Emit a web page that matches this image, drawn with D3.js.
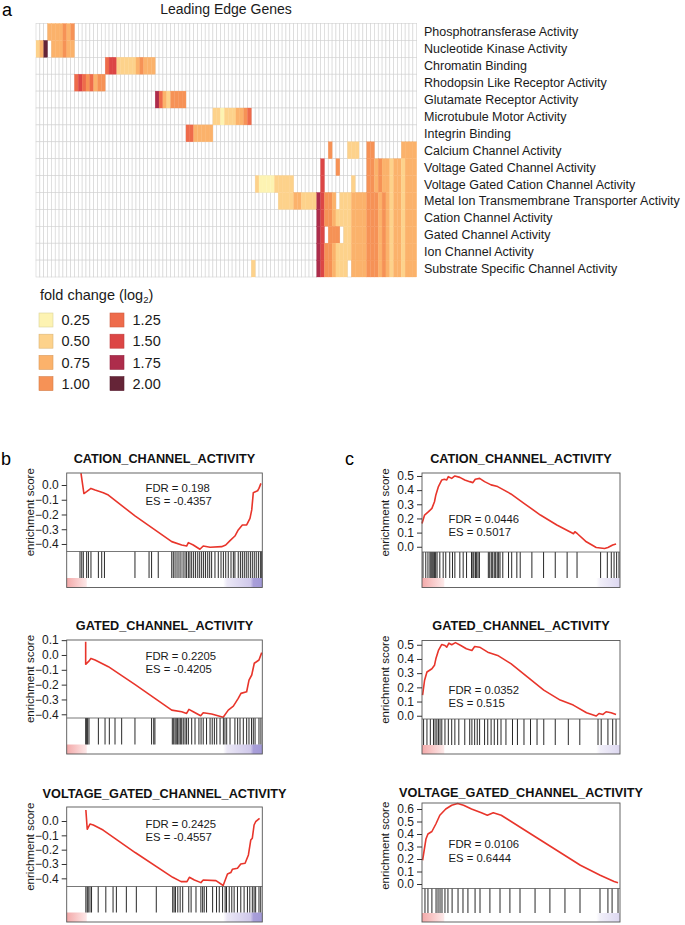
<!DOCTYPE html>
<html>
<head>
<meta charset="utf-8">
<script src="https://cdn.jsdelivr.net/npm/d3@7"></script>
<style>
  body { margin: 0; background: #fff; }
  svg { font-family: "Liberation Sans", Arial, Helvetica, sans-serif; }
</style>
</head>
<body>
<div id="figure"></div>
<script>
//~~~~~~~~~~~~~~~~~~DATA
// gene sets shown in the leading edge heatmap (one row each)
let geneSets = [
  "Phosphotransferase Activity", "Nucleotide Kinase Activity", "Chromatin Binding",
  "Rhodopsin Like Receptor Activity", "Glutamate Receptor Activity", "Microtubule Motor Activity",
  "Integrin Binding", "Calcium Channel Activity", "Voltage Gated Channel Activity",
  "Voltage Gated Cation Channel Activity", "Metal Ion Transmembrane Transporter Activity",
  "Cation Channel Activity", "Gated Channel Activity", "Ion Channel Activity",
  "Substrate Specific Channel Activity"
];
let geneCount = 99;

// leading edge cells, per row: [first gene column, [fold change log2 ...]], null = not in leading edge
let leadingEdge = [
  [[3, [0.75, 0.75, 0.75, 0.75, 1.0, 0.75, 1.0]]],
  [[0, [0.5, 0.75, 2.0, null, 0.75, 0.75, 0.75, 1.0, 0.75, 0.75]]],
  [[18, [1.25, 1.5, 1.5, 0.5, 0.5, 0.5, 0.5, 0.5, 0.75, 1.0, 0.75, 0.75, 0.75]]],
  [[10, [1.25, 1.5, 1.25, 1.0, 1.25, 0.75, 1.0, 1.0]]],
  [[31, [1.75, 1.25, 0.75, 0.5, 1.0, 1.0, 1.0, 1.0]]],
  [[46, [0.5, 0.5, 0.25, 0.5, 0.5, 0.5, 0.75, 0.75, 1.0, 1.25]]],
  [[39, [1.25, 1.25, 0.75, 0.75, 0.75, 0.75, 0.75]]],
  [[76, [1.0]], [81, [0.5, 0.5, 0.5]], [86, [1.0, 1.0]], [95, [0.75, 0.75, 0.75, 0.75]]],
  [[74, [1.5]], [78, [1.0]], [86, [1.0, 1.0, 0.75, 1.0, 0.75, 0.75, 0.5, 0.75, 0.75, 0.5, 0.75, 0.75, 0.75]]],
  [[57, [0.5, 0.25, 0.25, 0.25, 0.25, 0.5, 0.5, 0.5, 0.5, 0.5]], [74, [1.5]], [82, [0.5]],
   [86, [1.0, 1.0, 0.75, 1.0, 0.75, 0.75, 0.5, 0.75, 0.75, 0.5, 0.75, 0.75, 0.75]]],
  [[63, [0.5, 0.5, 0.5, 0.5, 0.75, 0.75, 0.5, 0.5, 0.5, 0.5, 1.75, 1.5, 1.0, 1.0, 0.75, null,
         0.5, 0.5, 0.5, 0.75, 0.75, 0.75, 0.75, 1.0, 1.0, 1.0, 0.75, 1.0, 0.75, 0.5, 0.75, 0.75, 0.5, 0.75, 0.75, 0.75]]],
  [[73, [1.75, 1.5, 1.0, 1.0, 0.75, 0.5,
         0.5, 0.5, 0.5, 0.75, 0.75, 0.75, 0.75, 1.0, 1.0, 1.0, 0.75, 1.0, 0.75, 0.5, 0.75, 0.75, 0.5, 0.75, 0.75, 0.75]]],
  [[73, [1.75, 1.5, null, 1.0, 1.0, 1.0,
         null, 0.5, 0.5, 0.75, 0.75, 0.75, 0.75, 1.0, 1.0, 1.0, 0.75, 1.0, 0.75, 0.5, 0.75, 0.75, 0.5, 0.75, 0.75, 0.75]]],
  [[73, [1.75, 1.5, 1.0, 1.0, 0.75, 0.5,
         0.5, 0.5, 0.5, 0.75, 0.75, 0.75, 0.75, 1.0, 1.0, 1.0, 0.75, 1.0, 0.75, 0.5, 0.75, 0.75, 0.5, 0.75, 0.75, 0.75]]],
  [[56, [0.5]], [73, [1.75, 1.5, 1.0, 1.0, 0.75, 0.5,
         0.5, 0.5, null, 0.75, 0.75, 0.75, 0.75, 1.0, 1.0, 1.0, 0.75, 1.0, 0.75, 0.5, 0.75, 0.75, 0.5, 0.75, 0.75, 0.75]]]
];

// legend steps and their colours
let foldSteps = [0.25, 0.50, 0.75, 1.00, 1.25, 1.50, 1.75, 2.00];
let foldColors = ["#fdf3b2", "#fdd28b", "#fbb26b", "#f69256", "#ee6b4b", "#dc4645", "#ad2c4b", "#652437"];

// GSEA panels
let setNames = ["CATION_CHANNEL_ACTIVITY", "GATED_CHANNEL_ACTIVITY", "VOLTAGE_GATED_CHANNEL_ACTIVITY"];
let fdrB = ["0.198", "0.2205", "0.2425"];
let esB = ["-0.4357", "-0.4205", "-0.4557"];
let fdrC = ["0.0446", "0.0352", "0.0106"];
let esC = ["0.5017", "0.515", "0.6444"];

let ticksB = [[0, -0.1, -0.2, -0.3, -0.4], [0.1, 0, -0.1, -0.2, -0.3, -0.4], [0, -0.1, -0.2, -0.3, -0.4]];
let ticksC = [[0, 0.1, 0.2, 0.3, 0.4, 0.5], [0, 0.1, 0.2, 0.3, 0.4, 0.5], [0, 0.1, 0.2, 0.3, 0.4, 0.5, 0.6]];

// running enrichment score: [rank fraction, ES]
let curveB1 = [[0.073, 0.08], [0.088, -0.058], [0.102, -0.045], [0.124, -0.023], [0.145, -0.034], [0.187, -0.052],
  [0.213, -0.068], [0.349, -0.21], [0.537, -0.384], [0.588, -0.407], [0.613, -0.414], [0.622, -0.391], [0.647, -0.407],
  [0.681, -0.436], [0.698, -0.414], [0.733, -0.422], [0.792, -0.418], [0.813, -0.407], [0.835, -0.377], [0.860, -0.346],
  [0.877, -0.305], [0.898, -0.271], [0.920, -0.271], [0.937, -0.226], [0.946, -0.169], [0.954, -0.052], [0.976, -0.039],
  [0.983, -0.023], [0.993, 0.011]];
let curveB2 = [[0.097, 0.09], [0.097, -0.063], [0.111, -0.045], [0.124, -0.023], [0.145, -0.034], [0.213, -0.079],
  [0.35, -0.2], [0.537, -0.372], [0.588, -0.383], [0.613, -0.394], [0.625, -0.367], [0.647, -0.383], [0.685, -0.41],
  [0.698, -0.39], [0.741, -0.398], [0.80, -0.42], [0.826, -0.372], [0.852, -0.345], [0.877, -0.293], [0.891, -0.259],
  [0.92, -0.248], [0.932, -0.169], [0.946, -0.135], [0.959, -0.056], [0.983, -0.034], [0.997, 0.016]];
let curveB3 = [[0.098, 0.077], [0.105, -0.058], [0.119, -0.021], [0.136, -0.028], [0.186, -0.063], [0.35, -0.22],
  [0.542, -0.393], [0.585, -0.423], [0.615, -0.423], [0.627, -0.393], [0.653, -0.412], [0.686, -0.43], [0.698, -0.412],
  [0.763, -0.416], [0.80, -0.45], [0.822, -0.37], [0.839, -0.36], [0.847, -0.337], [0.873, -0.33], [0.89, -0.3],
  [0.912, -0.295], [0.929, -0.237], [0.941, -0.133], [0.949, -0.12], [0.958, -0.028], [0.966, -0.005], [0.986, 0.019]];
let curveC1 = [[0, 0.165], [0.013, 0.224], [0.033, 0.248], [0.05, 0.271], [0.063, 0.318], [0.07, 0.366], [0.083, 0.425],
  [0.1, 0.472], [0.113, 0.477], [0.125, 0.472], [0.133, 0.495], [0.15, 0.483], [0.166, 0.5], [0.191, 0.49], [0.216, 0.472],
  [0.241, 0.46], [0.257, 0.453], [0.269, 0.477], [0.291, 0.483], [0.316, 0.46], [0.349, 0.437], [0.382, 0.425],
  [0.449, 0.373], [0.515, 0.307], [0.598, 0.224], [0.681, 0.154], [0.756, 0.099], [0.765, 0.092], [0.772, 0.106],
  [0.785, 0.092], [0.83, 0.035], [0.88, -0.005], [0.922, -0.012], [0.939, -0.005], [0.963, 0.012], [0.98, 0.019]];
let curveC2 = [[0.003, 0.145], [0.013, 0.25], [0.025, 0.308], [0.05, 0.331], [0.063, 0.355], [0.07, 0.401], [0.083, 0.46],
  [0.1, 0.502], [0.116, 0.495], [0.125, 0.483], [0.136, 0.511], [0.15, 0.5], [0.169, 0.515], [0.196, 0.495],
  [0.224, 0.472], [0.252, 0.46], [0.266, 0.488], [0.291, 0.483], [0.332, 0.448], [0.382, 0.425], [0.449, 0.367],
  [0.532, 0.273], [0.615, 0.18], [0.698, 0.11], [0.764, 0.075], [0.831, 0.021], [0.88, -0.002], [0.894, 0.016],
  [0.914, 0.009], [0.93, 0.028], [0.955, 0.021], [0.98, 0.009]];
let curveC3 = [[0.003, 0.19], [0.02, 0.36], [0.03, 0.40], [0.05, 0.42], [0.07, 0.48], [0.09, 0.55], [0.12, 0.60],
  [0.15, 0.63], [0.18, 0.644], [0.21, 0.63], [0.25, 0.60], [0.30, 0.57], [0.33, 0.55], [0.36, 0.57], [0.40, 0.55],
  [0.5, 0.45], [0.6, 0.35], [0.7, 0.25], [0.8, 0.15], [0.9, 0.07], [0.97, 0.02], [0.99, 0.01]];

// gene set members in the ranked list (rank fraction)
let hitsB1 = [0.068, 0.077, 0.085, 0.102, 0.111, 0.124, 0.162, 0.179, 0.193, 0.349, 0.421, 0.434, 0.468, 0.537, 0.545,
  0.554, 0.564, 0.574, 0.584, 0.595, 0.605, 0.613, 0.622, 0.630, 0.639, 0.649, 0.659, 0.670, 0.680, 0.690, 0.700, 0.710,
  0.721, 0.731, 0.741, 0.758, 0.775, 0.789, 0.801, 0.813, 0.826, 0.840, 0.852, 0.860, 0.877, 0.888, 0.898, 0.908, 0.918,
  0.928, 0.939, 0.949, 0.959, 0.969, 0.980, 0.990, 0.997];
let hitsB2 = [0.097, 0.102, 0.107, 0.114, 0.162, 0.196, 0.218, 0.247, 0.281, 0.349, 0.434, 0.445, 0.451, 0.540, 0.547,
  0.554, 0.560, 0.567, 0.574, 0.581, 0.588, 0.596, 0.605, 0.613, 0.622, 0.639, 0.656, 0.676, 0.687, 0.698, 0.715, 0.733,
  0.744, 0.755, 0.767, 0.784, 0.801, 0.809, 0.818, 0.835, 0.860, 0.874, 0.886, 0.903, 0.920, 0.932, 0.945, 0.954, 0.963,
  0.983, 0.993];
let hitsB3 = [0.098, 0.105, 0.110, 0.119, 0.127, 0.161, 0.2, 0.237, 0.254, 0.305, 0.356, 0.458, 0.542, 0.549, 0.556,
  0.568, 0.580, 0.593, 0.624, 0.636, 0.661, 0.686, 0.695, 0.703, 0.715, 0.746, 0.766, 0.780, 0.797, 0.810, 0.817, 0.831,
  0.844, 0.856, 0.873, 0.890, 0.907, 0.924, 0.936, 0.949, 0.958, 0.966, 0.983, 0.992];
let hitsC1 = [0.005, 0.019, 0.030, 0.04, 0.045, 0.05, 0.055, 0.06, 0.064, 0.069, 0.076, 0.09, 0.107, 0.12, 0.14, 0.154,
  0.166, 0.191, 0.208, 0.225, 0.25, 0.257, 0.262, 0.27, 0.276, 0.283, 0.29, 0.335, 0.342, 0.35, 0.357, 0.365, 0.372,
  0.38, 0.387, 0.394, 0.408, 0.437, 0.453, 0.479, 0.496, 0.555, 0.614, 0.673, 0.733, 0.783, 0.902, 0.936, 0.956, 0.97,
  0.983, 0.995];
let hitsC2 = [0.008, 0.025, 0.042, 0.058, 0.066, 0.075, 0.083, 0.091, 0.1, 0.116, 0.133, 0.15, 0.166, 0.186, 0.216,
  0.241, 0.252, 0.266, 0.279, 0.291, 0.316, 0.332, 0.349, 0.365, 0.382, 0.399, 0.424, 0.457, 0.482, 0.515, 0.548, 0.581,
  0.615, 0.673, 0.739, 0.797, 0.889, 0.905, 0.939, 0.963, 0.98];
let hitsC3 = [0.015, 0.03, 0.05, 0.071, 0.081, 0.091, 0.101, 0.116, 0.131, 0.152, 0.182, 0.207, 0.232, 0.268, 0.293,
  0.343, 0.394, 0.444, 0.495, 0.571, 0.646, 0.722, 0.798, 0.899, 0.939, 0.96, 0.99];

//~~~~~~~~~~~~~~~~~~SVG
let svg = d3.select('#figure')
  .append('svg')
  .attr('width', 685)
  .attr('height', 925);

//panel letters
[['a', 2, 16], ['b', 1, 465], ['c', 345, 465]].forEach(function(p) {
  svg.append('text')
    .attr('x', p[1])
    .attr('y', p[2])
    .attr('font-size', 18)
    .text(p[0]);
});

//~~~~~~~~~~~~~~~~~~HEATMAP
let heatX = d3.scaleBand().domain(d3.range(geneCount)).range([36, 416.7]);
let heatY = d3.scaleBand().domain(geneSets).range([23.5, 277]);
let foldColor = d3.scaleOrdinal(foldSteps, foldColors);

//turn the row segments into one cell per gene column
let cells = [];
geneSets.forEach(function(name, r) {
  let row = new Array(geneCount).fill(null);
  leadingEdge[r].forEach(function(seg) {
    seg[1].forEach(function(v, k) { row[seg[0] + k] = v; });
  });
  row.forEach(function(v, c) { cells.push({ set: name, col: c, value: v }); });
});

let heat = svg.append('g');

//empty grid first, coloured cells on top so their edges are not cut by grey lines
heat.selectAll('rect.empty')
  .data(cells.filter(function(d) { return d.value === null; }))
  .enter()
  .append('rect')
  .attr('class', 'empty')
  .attr('x', function(d) { return heatX(d.col); })
  .attr('y', function(d) { return heatY(d.set); })
  .attr('width', heatX.bandwidth())
  .attr('height', heatY.bandwidth())
  .attr('fill', '#fff')
  .attr('stroke', '#d2d2d2')
  .attr('stroke-width', 0.6);

heat.selectAll('rect.hit')
  .data(cells.filter(function(d) { return d.value !== null; }))
  .enter()
  .append('rect')
  .attr('class', 'hit')
  .attr('x', function(d) { return heatX(d.col); })
  .attr('y', function(d) { return heatY(d.set); })
  .attr('width', heatX.bandwidth())
  .attr('height', heatY.bandwidth())
  .attr('fill', function(d) { return foldColor(d.value); })
  .attr('stroke', function(d) { return foldColor(d.value); })
  .attr('stroke-width', 0.3);

//row labels on the right
heat.selectAll('text.set')
  .data(geneSets)
  .enter()
  .append('text')
  .attr('class', 'set')
  .attr('x', 424)
  .attr('y', function(d) { return heatY(d) + heatY.bandwidth() / 2; })
  .attr('dy', '0.36em')
  .attr('font-size', 12.5)
  .attr('fill', '#1a1a1a')
  .text(function(d) { return d; });

heat.append('text')
  .attr('x', 226)
  .attr('y', 14)
  .attr('text-anchor', 'middle')
  .attr('font-size', 14)
  .attr('fill', '#1a1a1a')
  .text('Leading Edge Genes');

//~~~~~~~~~~~~~~~~~~LEGEND
let legendTitle = svg.append('text')
  .attr('x', 40)
  .attr('y', 300)
  .attr('font-size', 14.5)
  .attr('fill', '#1a1a1a');
legendTitle.append('tspan').text('fold change (log');
legendTitle.append('tspan').attr('font-size', 9.5).attr('dy', 3).text('2');
legendTitle.append('tspan').attr('dy', -3).text(')');

let legend = svg.selectAll('.legend')
  .data(foldSteps)
  .enter()
  .append('g')
  .attr('class', 'legend')
  .attr('transform', function(d, i) {
    return 'translate(' + (39 + Math.floor(i / 4) * 71) + ',' + (313 + (i % 4) * 21.2) + ')';
  });

legend.append('rect')
  .attr('width', 14)
  .attr('height', 14)
  .attr('fill', foldColor)
  .attr('stroke', function(d) { return d3.color(foldColor(d)).darker(0.4); })
  .attr('stroke-width', 0.6);

legend.append('text')
  .attr('x', 22.5)
  .attr('y', 7)
  .attr('dy', '0.36em')
  .attr('font-size', 14.5)
  .attr('fill', '#1a1a1a')
  .text(function(d) { return d3.format('.2f')(d); });

//~~~~~~~~~~~~~~~~~~GSEA PANELS
//vertical layout of the panels (b column, then c column)
let layoutB = [
  { title: 463, top: 473, es: 551.5, bar: 578, end: 587.5 },
  { title: 630, top: 640, es: 718, bar: 744.5, end: 754 },
  { title: 798, top: 807, es: 886.5, bar: 912.5, end: 922 }
];
let layoutC = [
  { title: 463, top: 473, es: 552, bar: 578, end: 587.5 },
  { title: 630, top: 640.5, es: 719, bar: 745, end: 754 },
  { title: 797, top: 803, es: 888.5, bar: 913, end: 922 }
];

//ES value at the top and at the bottom of each enrichment plot
let domainsB = [[0.0814, -0.451], [0.101, -0.425], [0.0977, -0.457]];
let domainsC = [[0.521, -0.037], [0.530, -0.023], [0.648, -0.036]];

let rankStopsB = [[0, '#f3a9a9'], [0.1, '#fde7e7'], [0.105, '#ffffff'], [0.8, '#ffffff'], [0.82, '#ebe8f6'],
  [0.94, '#cfc8ea'], [0.955, '#a99fd9'], [1, '#a198d6']];
let rankStopsC = [[0, '#f3a9a9'], [0.11, '#fde9e9'], [0.115, '#ffffff'], [0.88, '#ffffff'], [0.9, '#f1eff9'],
  [1, '#dcd7f0']];

function drawGsea(id, left, right, lay, name, curve, hits, domain, ticks, fdr, es, stops, textX, textY) {
  let g = svg.append('g');
  let x = d3.scaleLinear().domain([0, 1]).range([left, right]);
  let y = d3.scaleLinear().domain(domain).range([lay.top, lay.es]);

  //ranked list colour bar
  let grad = svg.append('defs').append('linearGradient').attr('id', id);
  grad.selectAll('stop')
    .data(stops)
    .enter()
    .append('stop')
    .attr('offset', function(d) { return d[0]; })
    .attr('stop-color', function(d) { return d[1]; });
  g.append('rect')
    .attr('x', left)
    .attr('y', lay.bar)
    .attr('width', right - left)
    .attr('height', lay.end - lay.bar)
    .attr('fill', 'url(#' + id + ')');

  //barcode of gene set members
  g.selectAll('line.hit')
    .data(hits)
    .enter()
    .append('line')
    .attr('x1', x)
    .attr('x2', x)
    .attr('y1', lay.es)
    .attr('y2', lay.bar)
    .attr('stroke', '#111')
    .attr('stroke-width', 0.9);

  //running enrichment score
  g.append('path')
    .datum(curve)
    .attr('d', d3.line().x(function(d) { return x(d[0]); }).y(function(d) { return y(d[1]); }))
    .attr('fill', 'none')
    .attr('stroke', '#e8352b')
    .attr('stroke-width', 1.6)
    .attr('stroke-linejoin', 'round');

  //frame and dividers
  g.append('line')
    .attr('x1', left).attr('x2', right)
    .attr('y1', lay.es).attr('y2', lay.es)
    .attr('stroke', '#555').attr('stroke-width', 0.8);
  g.append('rect')
    .attr('x', left)
    .attr('y', lay.top)
    .attr('width', right - left)
    .attr('height', lay.end - lay.top)
    .attr('fill', 'none')
    .attr('stroke', '#555')
    .attr('stroke-width', 0.9);

  //y axis
  let axis = g.append('g')
    .attr('transform', 'translate(' + left + ',0)')
    .call(d3.axisLeft(y).tickValues(ticks).tickFormat(d3.format('.1f')).tickSize(5).tickPadding(3));
  axis.select('.domain').remove();
  axis.selectAll('line').attr('stroke', '#333');
  axis.selectAll('text')
    .attr('font-size', 12)
    .attr('font-family', '"Liberation Sans", Arial, sans-serif')
    .attr('fill', '#1a1a1a');

  g.append('text')
    .attr('transform', 'translate(' + (left - 33) + ',' + ((lay.top + lay.es) / 2) + ') rotate(-90)')
    .attr('text-anchor', 'middle')
    .attr('font-size', 11.5)
    .attr('fill', '#1a1a1a')
    .text('enrichment score');

  g.append('text')
    .attr('x', (left + right) / 2)
    .attr('y', lay.title)
    .attr('text-anchor', 'middle')
    .attr('font-size', 12.7)
    .attr('font-weight', 'bold')
    .attr('fill', '#111')
    .text(name);

  g.append('text')
    .attr('x', textX)
    .attr('y', textY)
    .attr('font-size', 11.3)
    .attr('fill', '#1a1a1a')
    .text('FDR = ' + fdr);
  g.append('text')
    .attr('x', textX)
    .attr('y', textY + 13.5)
    .attr('font-size', 11.3)
    .attr('fill', '#1a1a1a')
    .text('ES = ' + es);
}

let curvesB = [curveB1, curveB2, curveB3];
let curvesC = [curveC1, curveC2, curveC3];
let hitsBAll = [hitsB1, hitsB2, hitsB3];
let hitsCAll = [hitsC1, hitsC2, hitsC3];
let fdrTextB = [491.5, 659.5, 827.5];
let fdrTextC = [522.5, 693.5, 848];

layoutB.forEach(function(lay, i) {
  drawGsea('rankB' + i, 66.7, 262.3, lay, setNames[i], curvesB[i], hitsBAll[i], domainsB[i], ticksB[i],
    fdrB[i], esB[i], rankStopsB, 145.5, fdrTextB[i]);
  drawGsea('rankC' + i, 422, 620, layoutC[i], setNames[i], curvesC[i], hitsCAll[i], domainsC[i], ticksC[i],
    fdrC[i], esC[i], rankStopsC, 448.5, fdrTextC[i]);
});
</script>
</body>
</html>
